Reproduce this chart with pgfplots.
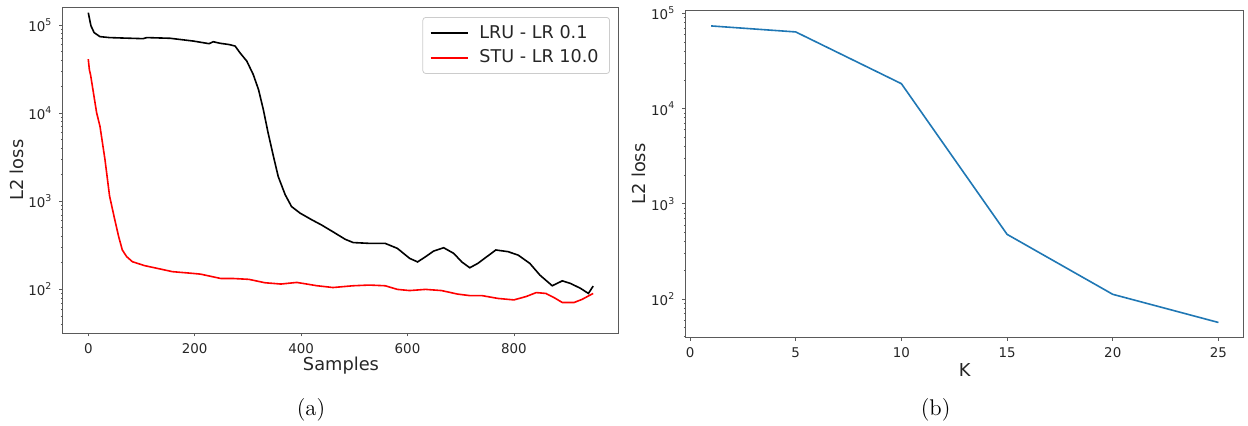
\documentclass[border=0pt]{standalone}
\usepackage{pgfplots}
\pgfplotsset{compat=1.18}
\usepackage{fontspec}
\newfontfamily\dv{DejaVu Sans}

\definecolor{mplblue}{RGB}{31,119,180}
\definecolor{spine}{RGB}{90,90,90}

% common look of both panels (1px of the reference = 0.5pt)
\pgfplotsset{
  lossaxis/.style={
    scale only axis,
    axis line style={spine, line width=0.5pt},
    tick align=outside,
    major tick length=1.75pt,
    minor tick length=1pt,
    every tick/.style={spine, line width=0.4pt},
    xtick pos=bottom, ytick pos=left,
    ytick={1e2,1e3,1e4,1e5},
    yticklabels={10\textsuperscript{2},10\textsuperscript{3},10\textsuperscript{4},10\textsuperscript{5}},
    minor ytick={40,50,60,70,80,90,200,300,400,500,600,700,800,900,
                 2000,3000,4000,5000,6000,7000,8000,9000,
                 20000,30000,40000,50000,60000,70000,80000,90000},
    /pgf/number format/assume math mode=true,
    tick label style={font=\dv\fontsize{6.7}{7.5}\selectfont, text=black!85},
    label style={font=\dv\fontsize{8.9}{10}\selectfont, text=black!85},
    xlabel style={at={(axis description cs:0.5,0)}, anchor=center},
    ylabel style={at={(axis description cs:0,0.5)}, anchor=center},
  },
}

\begin{document}
\begin{tikzpicture}
\useasboundingbox (0pt,0pt) rectangle (624pt,-212.5pt);

% ---------- (a) loss over samples ----------
\begin{axis}[
  ymode=log, log basis y=10,
  lossaxis,
  at={(31.5pt,-166.5pt)}, anchor=south west,
  width=278pt, height=162.75pt,
  xmin=-47.5, xmax=997.5,
  ymin=32, ymax=158000,
  xtick={0,200,400,600,800},
  xlabel={Samples}, ylabel={L2 loss},
  xlabel style={yshift=-16.5pt},
  ylabel style={yshift=23.15pt},
  legend style={at={(axis description cs:1,1)}, anchor=north east,
    xshift=-4.5pt, yshift=-4.75pt,
    draw=black!20, rounded corners=1.5pt, fill=white,
    font=\dv\fontsize{8.8}{10}\selectfont, text=black!85,
    row sep=0.4pt, inner xsep=3.5pt, inner ysep=1.8pt,
    /tikz/every odd column/.append style={column sep=3.5pt}},
  legend cell align=left,
  legend image code/.code={\draw[#1] (0pt,0pt) -- (18.5pt,0pt);},
]
\addplot[black, line width=0.8pt] coordinates {
  (0,138000) (5,98000) (11,82000) (22,73800) (40,72000) (70,71000)
  (103,70000) (110,72000) (154,70700) (197,65800) (227,61400) (235,64600)
  (248,62000) (265,60000) (276,57700) (285,48500) (298,38900) (310,27500)
  (320,18500) (329,11000) (338,5970) (348,3240) (357,1910) (370,1190)
  (382,872) (398,734) (420,617) (438,540) (460,450) (483,370) (498,340)
  (528,333) (558,333)
  (581,292) (604,225) (619,205) (634,235) (649,272) (668,297) (687,256)
  (702,205) (717,176) (732,197) (747,230) (766,280) (789,268) (808,245)
  (830,197) (849,145) (872,110) (891,125) (906,117) (925,103) (940,90)
  (949,109)
};
\addlegendentry{LRU - LR 0.1}
\addplot[red, line width=0.8pt] coordinates {
  (0,41000) (2,31300) (4.5,26800) (15.7,10100) (22,7100) (31.4,2970)
  (40,1150) (49,650) (57,400) (64,280) (72,236) (83,206) (106,186)
  (136,170) (158,159) (196,152) (211,149) (249,133) (272,133) (302,130)
  (332,119) (362,115) (392,120) (430,110) (460,105) (498,110) (528,112)
  (558,110) (581,100) (604,97) (634,100) (664,97) (694,88.5) (717,85)
  (740,85) (770,79) (800,76) (823,83) (842,92) (860,90) (875,81)
  (891,71) (913,71) (928,77) (949,90)
};
\addlegendentry{STU - LR 10.0}
\end{axis}

% ---------- (b) loss over K ----------
\begin{axis}[
  ymode=log, log basis y=10,
  lossaxis,
  at={(342.9pt,-168.65pt)}, anchor=south west,
  width=279pt, height=163.15pt,
  xmin=-0.2, xmax=26.2,
  ymin=39.6, ymax=106200,
  xtick={0,5,10,15,20,25},
  xlabel={K}, ylabel={L2 loss},
  xlabel style={yshift=-16.35pt},
  ylabel style={yshift=23.4pt},
]
\addplot[mplblue, line width=0.8pt] coordinates {
  (1,74000) (5,64000) (10,18300) (15,478) (20,112) (25,56.7)
};
\end{axis}

\node[font=\fontsize{11.35}{13}\selectfont] at (155.5pt,-205pt) {(a)};
\node[font=\fontsize{11.35}{13}\selectfont] at (467.8pt,-205pt) {(b)};
\end{tikzpicture}
\end{document}
